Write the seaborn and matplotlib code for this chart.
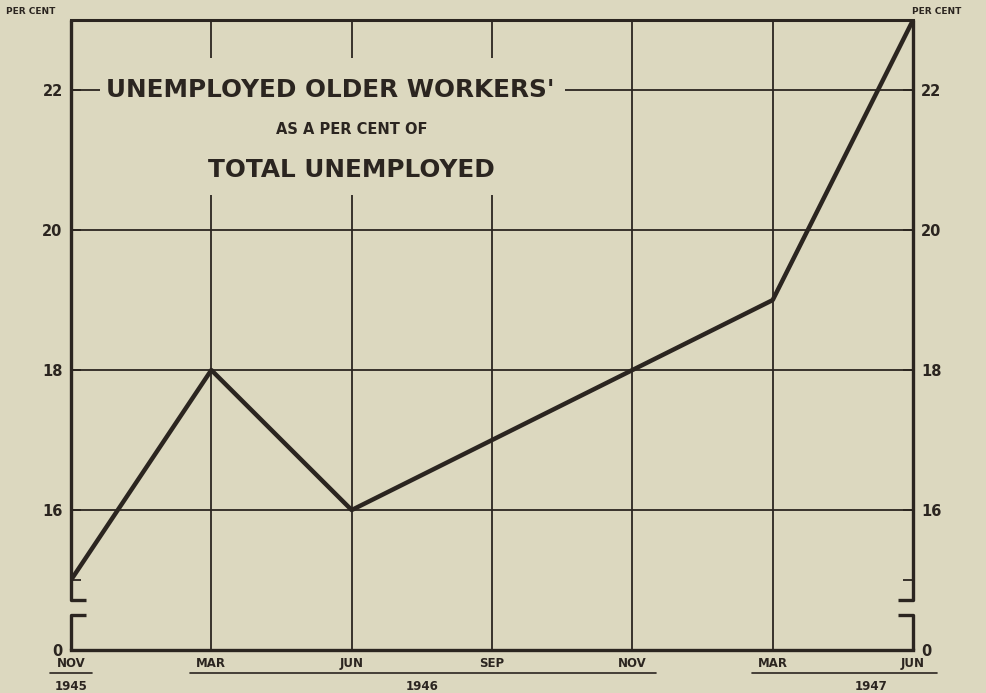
# Ancien graphique : part des chômeurs âgés dans le total des chômeurs
# axe coupé en bas (0 puis 15..23), grille simple, fond papier jauni

import numpy as np
import pandas as pd
import matplotlib.pyplot as plt
import matplotlib.transforms as mtransforms
from matplotlib.patches import Rectangle
import seaborn as sns

months = ["NOV", "MAR", "JUN", "SEP", "NOV", "MAR", "JUN"]
years = ["1945", "1946", "1946", "1946", "1946", "1947", "1947"]
pct = [15.0, 18.0, 16.0, 17.0, 18.0, 19.0, 23.0]

y_grid = [16, 18, 20, 22]
y_ticks = [14, 15, 16, 18, 20, 22]
y_ticklabels = ["0", "", "16", "18", "20", "22"]

BG = "#dcd8bf"
INK = "#2b2520"

sns.set_style("white")
plt.rcParams["font.family"] = ["DejaVu Sans"]

df = pd.DataFrame({"pos": np.arange(len(months)), "pct": pct})

fig = plt.figure(figsize=(9.86, 6.93), dpi=100, facecolor=BG)
ax = fig.add_axes([0.072, 0.062, 0.854, 0.909])
ax.set_facecolor(BG)

# grille à la main (pas de ligne à 15)
for y in y_grid:
    ax.axhline(y, color=INK, lw=1.3, zorder=1)
for x in df["pos"][1:-1]:
    ax.axvline(x, color=INK, lw=1.3, zorder=1)

sns.lineplot(data=df, x="pos", y="pct", color=INK, lw=3.2, ax=ax, zorder=4)

ax.set_xlim(0, 6)
ax.set_ylim(14, 23)

# cadre avec la coupure
for s in ["left", "right"]:
    ax.spines[s].set_visible(False)
ax.spines["top"].set_linewidth(2.2)
ax.spines["bottom"].set_linewidth(2.4)
ax.spines["top"].set_color(INK)
ax.spines["bottom"].set_color(INK)
br_hi, br_lo, stub = 14.71, 14.5, 0.11
kw = dict(color=INK, lw=2.4, clip_on=False, zorder=5, solid_capstyle="butt")
ax.plot([stub, 0, 0], [br_hi, br_hi, 23], **kw)
ax.plot([stub, 0, 0], [br_lo, br_lo, 14], **kw)
ax.plot([6 - stub, 6, 6], [br_hi, br_hi, 23], **kw)
ax.plot([6 - stub, 6, 6], [br_lo, br_lo, 14], **kw)

ax.set_yticks(y_ticks, y_ticklabels)
ax.tick_params(axis="y", direction="in", length=7, width=1.3, color=INK,
               left=True, right=True, labelleft=True, labelright=True,
               labelsize=10.5, labelcolor=INK, pad=6)
ax.set_xticks(df["pos"], months)
ax.tick_params(axis="x", length=0, labelsize=8.5, labelcolor=INK, pad=5)
for lbl in ax.get_xticklabels():
    lbl.set_fontweight("bold")
for t in ax.yaxis.get_major_ticks():
    t.label1.set_fontweight("bold")
    t.label2.set_fontweight("bold")
ax.set_xlabel("")
ax.set_ylabel("")

# soulignement des années sous les mois
tr = mtransforms.blended_transform_factory(ax.transData, ax.transAxes)
groups = [("1945", -0.15, 0.15, 0.0), ("1946", 0.85, 4.17, 2.5), ("1947", 4.85, 6.17, 5.7)]
for yr, x0, x1, xc in groups:
    ax.plot([x0, x1], [-0.037, -0.037], transform=tr, color=INK, lw=1.2, clip_on=False)
    ax.text(xc, -0.047, yr, transform=tr, ha="center", va="top", fontsize=8.5,
            fontweight="bold", color=INK)

fig.text(0.006, 0.99, "PER CENT", ha="left", va="top", fontsize=6.5, color=INK, fontweight="bold")
fig.text(0.925, 0.99, "PER CENT", ha="left", va="top", fontsize=6.5, color=INK, fontweight="bold")

# bloc titre qui masque la grille
ax.add_patch(Rectangle((0.21, 20.5), 3.31, 1.96, facecolor=BG, edgecolor="none", zorder=2))
ax.text(1.85, 22.0, "UNEMPLOYED OLDER WORKERS'", ha="center", va="center",
        fontsize=17.8, fontweight="bold", color=INK, zorder=3)
ax.text(2.0, 21.43, "AS A PER CENT OF", ha="center", va="center",
        fontsize=10.5, fontweight="bold", color=INK, zorder=3)
ax.text(2.0, 20.86, "TOTAL UNEMPLOYED", ha="center", va="center",
        fontsize=17.8, fontweight="bold", color=INK, zorder=3)

fig.savefig("out.png", dpi=100, facecolor=BG)
